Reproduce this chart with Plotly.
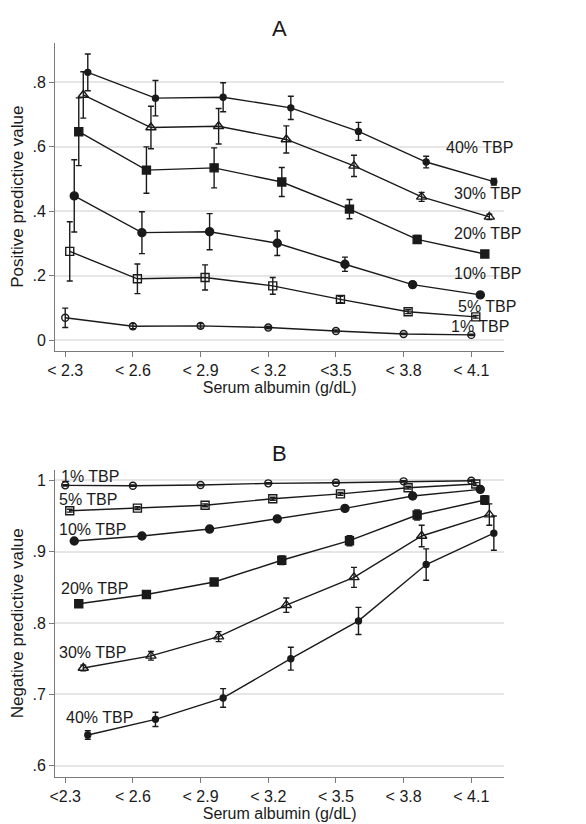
import plotly.graph_objects as go

# ---------------- data ----------------
tick_vals = [2.3, 2.6, 2.9, 3.2, 3.5, 3.8, 4.1]
ticks_a = ["< 2.3", "< 2.6", "< 2.9", "< 3.2", "<3.5", "< 3.8", "< 4.1"]
ticks_b = ["<2.3", "< 2.6", "< 2.9", "< 3.2", "< 3.5", "< 3.8", "< 4.1"]
series_names = ["1% TBP", "5% TBP", "10% TBP", "20% TBP", "30% TBP", "40% TBP"]
x_offsets = [0.0, 0.02, 0.04, 0.06, 0.08, 0.10]  # horizontal dodge per series

# Panel A: positive predictive value
ppv = {
    "1% TBP":  [0.069, 0.043, 0.044, 0.039, 0.028, 0.019, 0.016],
    "5% TBP":  [0.275, 0.190, 0.194, 0.168, 0.126, 0.088, 0.072],
    "10% TBP": [0.447, 0.333, 0.336, 0.300, 0.235, 0.172, 0.140],
    "20% TBP": [0.646, 0.527, 0.534, 0.490, 0.406, 0.312, 0.267],
    "30% TBP": [0.760, 0.659, 0.663, 0.622, 0.540, 0.444, 0.382],
    "40% TBP": [0.830, 0.750, 0.753, 0.720, 0.647, 0.552, 0.491],
}
ppv_err = {
    "1% TBP":  [0.030, 0.008, 0.007, 0.004, 0.003, 0.002, 0.002],
    "5% TBP":  [0.092, 0.046, 0.039, 0.026, 0.010, 0.006, 0.004],
    "10% TBP": [0.112, 0.065, 0.056, 0.038, 0.022, 0.008, 0.004],
    "20% TBP": [0.105, 0.072, 0.062, 0.045, 0.030, 0.012, 0.006],
    "30% TBP": [0.072, 0.066, 0.055, 0.042, 0.033, 0.014, 0.008],
    "40% TBP": [0.057, 0.055, 0.045, 0.036, 0.028, 0.018, 0.010],
}

# Panel B: negative predictive value
npv = {
    "1% TBP":  [0.993, 0.9925, 0.9934, 0.9958, 0.9967, 0.9986, 0.9995],
    "5% TBP":  [0.9574, 0.961, 0.965, 0.9742, 0.981, 0.9897, 0.9948],
    "10% TBP": [0.915, 0.922, 0.9317, 0.946, 0.9607, 0.978, 0.9874],
    "20% TBP": [0.827, 0.840, 0.8575, 0.888, 0.9154, 0.9514, 0.9724],
    "30% TBP": [0.737, 0.754, 0.781, 0.825, 0.864, 0.922, 0.952],
    "40% TBP": [0.643, 0.665, 0.695, 0.750, 0.803, 0.882, 0.926],
}
npv_err = {
    "1% TBP":  [0.001, 0.001, 0.001, 0.001, 0.001, 0.001, 0.001],
    "5% TBP":  [0.002, 0.002, 0.002, 0.002, 0.002, 0.002, 0.002],
    "10% TBP": [0.002, 0.002, 0.002, 0.002, 0.003, 0.004, 0.003],
    "20% TBP": [0.003, 0.003, 0.004, 0.006, 0.007, 0.007, 0.006],
    "30% TBP": [0.004, 0.006, 0.007, 0.010, 0.014, 0.015, 0.015],
    "40% TBP": [0.006, 0.010, 0.013, 0.016, 0.019, 0.022, 0.024],
}

# label positions (x, y in data units)
labels_a = {
    "40% TBP": (4.137, 0.596), "30% TBP": (4.17, 0.453), "20% TBP": (4.17, 0.330),
    "10% TBP": (4.17, 0.205), "5% TBP": (4.168, 0.105), "1% TBP": (4.14, 0.041),
}
labels_b = {
    "1% TBP": (2.41, 1.006), "5% TBP": (2.40, 0.9734), "10% TBP": (2.42, 0.9317),
    "20% TBP": (2.43, 0.8486), "30% TBP": (2.42, 0.759), "40% TBP": (2.45, 0.6678),
}

markers = {
    "1% TBP": ("circle-open", 7),
    "5% TBP": ("square-open", 8),
    "10% TBP": ("circle", 8),
    "20% TBP": ("square", 8),
    "30% TBP": ("triangle-up-open", 9),
    "40% TBP": ("circle", 6),
}

INK = "#1a1a1a"
FONT = "Liberation Sans, Arial, sans-serif"

fig = go.Figure()

def add_panel(values, errors, xaxis, yaxis):
    for name, off in zip(series_names, x_offsets):
        sym, size = markers[name]
        fig.add_trace(go.Scatter(
            x=[v + off for v in tick_vals], y=values[name],
            mode="lines+markers", name=name, showlegend=False,
            xaxis=xaxis, yaxis=yaxis,
            line=dict(color=INK, width=1.4),
            marker=dict(symbol=sym, size=size, color=INK,
                        line=dict(color=INK, width=1.4)),
            error_y=dict(type="data", array=errors[name], visible=True,
                         color=INK, thickness=1.4, width=3),
        ))

add_panel(ppv, ppv_err, "x", "y")
add_panel(npv, npv_err, "x2", "y2")

for name, (lx, ly) in labels_a.items():
    fig.add_annotation(x=lx, y=ly, xref="x", yref="y", text=name, showarrow=False,
                       font=dict(size=16, color=INK, family=FONT))
for name, (lx, ly) in labels_b.items():
    fig.add_annotation(x=lx, y=ly, xref="x2", yref="y2", text=name, showarrow=False,
                       font=dict(size=16, color=INK, family=FONT))

# panel titles
fig.add_annotation(x=0.4773, y=1 - 28.5 / 824, xref="paper", yref="paper", text="A",
                   showarrow=False, xanchor="center", yanchor="middle",
                   font=dict(size=22, color=INK, family=FONT))
fig.add_annotation(x=0.4773, y=1 - 453.5 / 824, xref="paper", yref="paper", text="B",
                   showarrow=False, xanchor="center", yanchor="middle",
                   font=dict(size=22, color=INK, family=FONT))

xdom = [55.3 / 586, 504 / 586]
axis_common = dict(
    showline=True, linecolor="#7a7a7a", linewidth=1.3,
    ticks="outside", ticklen=5, tickcolor="#7a7a7a", tickwidth=1.2,
    tickfont=dict(size=16, color=INK, family=FONT),
    zeroline=False, automargin=False,
)

fig.update_layout(
    width=586, height=824,
    margin=dict(l=0, r=0, t=0, b=0),
    paper_bgcolor="white", plot_bgcolor="white",
    font=dict(family=FONT, color=INK),
    xaxis=dict(domain=xdom, anchor="y", range=[2.256, 4.245],
               tickvals=tick_vals, ticktext=ticks_a, showgrid=False,
               title=dict(text="Serum albumin (g/dL)", font=dict(size=16, color=INK), standoff=0),
               **axis_common),
    yaxis=dict(domain=[1 - 350.7 / 824, 1 - 42.7 / 824], anchor="x",
               range=[-0.033, 0.922],
               tickvals=[0, 0.2, 0.4, 0.6, 0.8], ticktext=["0", ".2", ".4", ".6", ".8"],
               showgrid=True, gridcolor="#e6e6e6", gridwidth=1.5,
               title=dict(text="Positive predictive value", font=dict(size=17, color=INK), standoff=4),
               **axis_common),
    xaxis2=dict(domain=xdom, anchor="y2", range=[2.256, 4.245],
                tickvals=tick_vals, ticktext=ticks_b, showgrid=False,
                title=dict(text="Serum albumin (g/dL)", font=dict(size=16, color=INK), standoff=0),
                **axis_common),
    yaxis2=dict(domain=[1 - 776.7 / 824, 1 - 470 / 824], anchor="x2",
                range=[0.5846, 1.0145],
                tickvals=[0.6, 0.7, 0.8, 0.9, 1.0], ticktext=[".6", ".7", ".8", ".9", "1"],
                showgrid=True, gridcolor="#e6e6e6", gridwidth=1.5,
                title=dict(text="Negative predictive value", font=dict(size=17, color=INK), standoff=4),
                **axis_common),
)

# remove the browser's default 8px body margin so the figure sits at the page origin
fig.write_html("out.html", config={"displayModeBar": False},
               post_script="document.body.style.margin='0px';")
